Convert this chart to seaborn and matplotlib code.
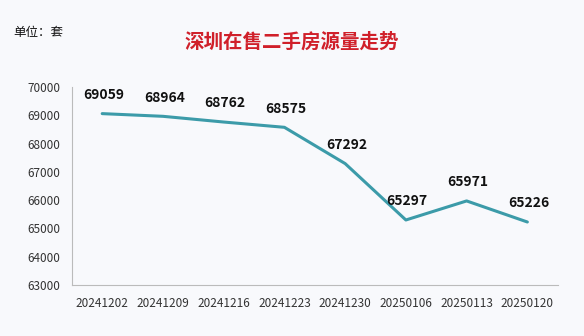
import matplotlib
matplotlib.use("Agg")
import matplotlib.pyplot as plt
import seaborn as sns
import pandas as pd
import numpy as np

dates = ["20241202", "20241209", "20241216", "20241223", "20241230", "20250106", "20250113", "20250120"]
values = [69059, 68964, 68762, 68575, 67292, 65297, 65971, 65226]
yticks = [63000, 64000, 65000, 66000, 67000, 68000, 69000, 70000]

sns.set_theme(style="white")
plt.rcParams['font.family'] = ['Noto Sans CJK SC', 'DejaVu Sans']

bg = "#F8F9FC"
fig = plt.figure(figsize=(5.84, 3.36), dpi=100, facecolor=bg)
ax = fig.add_axes([0.123, 0.152, 0.832, 0.589], facecolor=bg)

df = pd.DataFrame({"x": np.arange(len(dates)), "v": values})
sns.lineplot(data=df, x="x", y="v", ax=ax, color="#3C9BA9", linewidth=2.2)

for i, v in enumerate(values):
    ax.annotate(str(v), (i, v), xytext=(1, 8.5), textcoords="offset points",
                ha="center", va="bottom", fontsize=10, fontweight="bold", color="#111111")

ax.set_xlim(-0.5, len(dates) - 0.5)
ax.set_ylim(63000, 70000)
ax.set_yticks(yticks)
ax.set_yticklabels([str(t) for t in yticks], fontsize=8.5, color="#333333")
ax.set_xticks(np.arange(len(dates)))
ax.set_xticklabels(dates, fontsize=8.5, color="#333333")
ax.set_xticks(np.arange(-0.5, len(dates)), minor=True)
ax.tick_params(axis="x", which="major", length=0, pad=9)
ax.tick_params(axis="x", which="minor", length=4, color="#BBBBBB", width=0.8, direction="out")
ax.tick_params(axis="y", length=4, color="#BBBBBB", width=0.8, direction="out", pad=4)
ax.set_xlabel("")
ax.set_ylabel("")
for s in ["top", "right"]:
    ax.spines[s].set_visible(False)
for s in ["left", "bottom"]:
    ax.spines[s].set_color("#BBBBBB")
    ax.spines[s].set_linewidth(0.8)

fig.text(0.5, 0.875, "深圳在售二手房源量走势", ha="center", va="center",
         fontsize=14, fontweight="bold", color="#D0202A")
fig.text(0.022, 0.902, "单位：套", ha="left", va="center", fontsize=9, color="#111111")

fig.savefig("out.png", dpi=100, facecolor=bg)
